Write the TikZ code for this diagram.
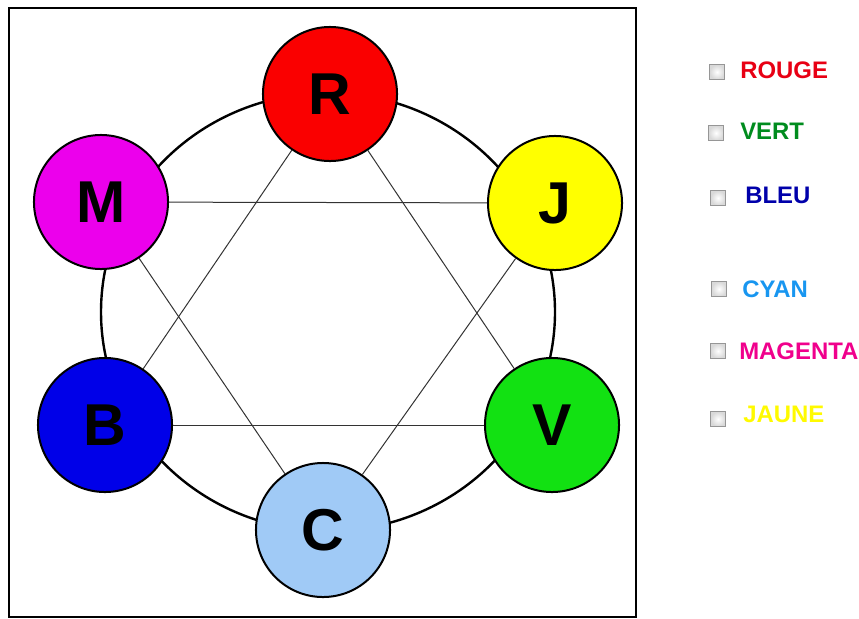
\documentclass[tikz,border=0pt]{standalone}
\usepackage{fontspec}
\setmainfont{Liberation Sans}
\usetikzlibrary{positioning}
\definecolor{rouge}{RGB}{250,0,0}
\definecolor{jaune}{RGB}{255,255,0}
\definecolor{vert}{RGB}{18,225,18}
\definecolor{cyanc}{RGB}{160,202,246}
\definecolor{bleu}{RGB}{0,0,232}
\definecolor{magenta}{RGB}{236,0,236}
\definecolor{txtrouge}{RGB}{232,0,20}
\definecolor{txtvert}{RGB}{0,140,30}
\definecolor{txtbleu}{RGB}{0,0,170}
\definecolor{txtcyan}{RGB}{24,150,240}
\definecolor{txtmagenta}{RGB}{240,0,140}
\definecolor{txtjaune}{RGB}{255,250,0}
\definecolor{boxgray}{RGB}{150,150,150}
\tikzset{
  colour/.style={
    circle,
    draw,
    line width=0.05cm,
    minimum size=3.35cm,
    inner sep=0pt,
    font=\fontsize{42}{42}\selectfont\bfseries
  },
  cross/.style={draw=black!80, line width=0.025cm},
  ring/.style={draw, line width=0.06cm},
  checkbox/.style={
    rectangle,
    draw=boxgray,
    line width=0.03cm,
    inner color=white,
    outer color=black!15,
    minimum size=0.36cm,
    inner sep=0pt
  },
  legend/.style={
    anchor=west,
    inner sep=0pt,
    font=\fontsize{17}{17}\selectfont\bfseries
  }
}
\begin{document}
\begin{tikzpicture}[x=0.025cm, y=-0.025cm]
  \useasboundingbox (0,0) rectangle (859,618);
  \draw[line width=0.05cm] (9,8) rectangle (636,617);

  % big circle behind
  \draw[ring] (328,312) ellipse (227 and 219);

  \node[colour, fill=rouge] (R) at (330,94) {R};
  \node[colour, fill=jaune] (J) at (555,203) {J};
  \node[colour, fill=vert] (V) at (552,425) {V};
  \node[colour, fill=cyanc] (C) at (323,530) {C};
  \node[colour, fill=bleu] (B) at (105,425) {B};
  \node[colour, fill=magenta] (M) at (101,202) {M};

  \draw[cross] (M) -- (J);
  \draw[cross] (B) -- (V);
  \draw[cross] (R) -- (B);
  \draw[cross] (R) -- (V);
  \draw[cross] (M) -- (C);
  \draw[cross] (J) -- (C);

  % legend
  \node[checkbox] (boxR) at (717,72) {};
  \node[checkbox] (boxV) at (716,133) {};
  \node[checkbox] (boxB) at (718,198) {};
  \node[checkbox] (boxC) at (719,289) {};
  \node[checkbox] (boxM) at (718,351) {};
  \node[checkbox] (boxJ) at (718,419) {};

  \node[legend, text=txtrouge, right=23 of boxR.center, yshift=1.5pt] (txtR) {ROUGE};
  \node[legend, text=txtvert, right=24 of boxV.center, yshift=1pt] (txtV) {VERT};
  \node[legend, text=txtbleu, right=27 of boxB.center, yshift=2pt] (txtB) {BLEU};
  \node[legend, text=txtcyan, right=23 of boxC.center] (txtC) {CYAN};
  \node[legend, text=txtmagenta, right=21 of boxM.center] (txtM) {MAGENTA};
  \node[legend, text=txtjaune, right=25 of boxJ.center, yshift=3pt] (txtJ) {JAUNE};
\end{tikzpicture}
\end{document}
